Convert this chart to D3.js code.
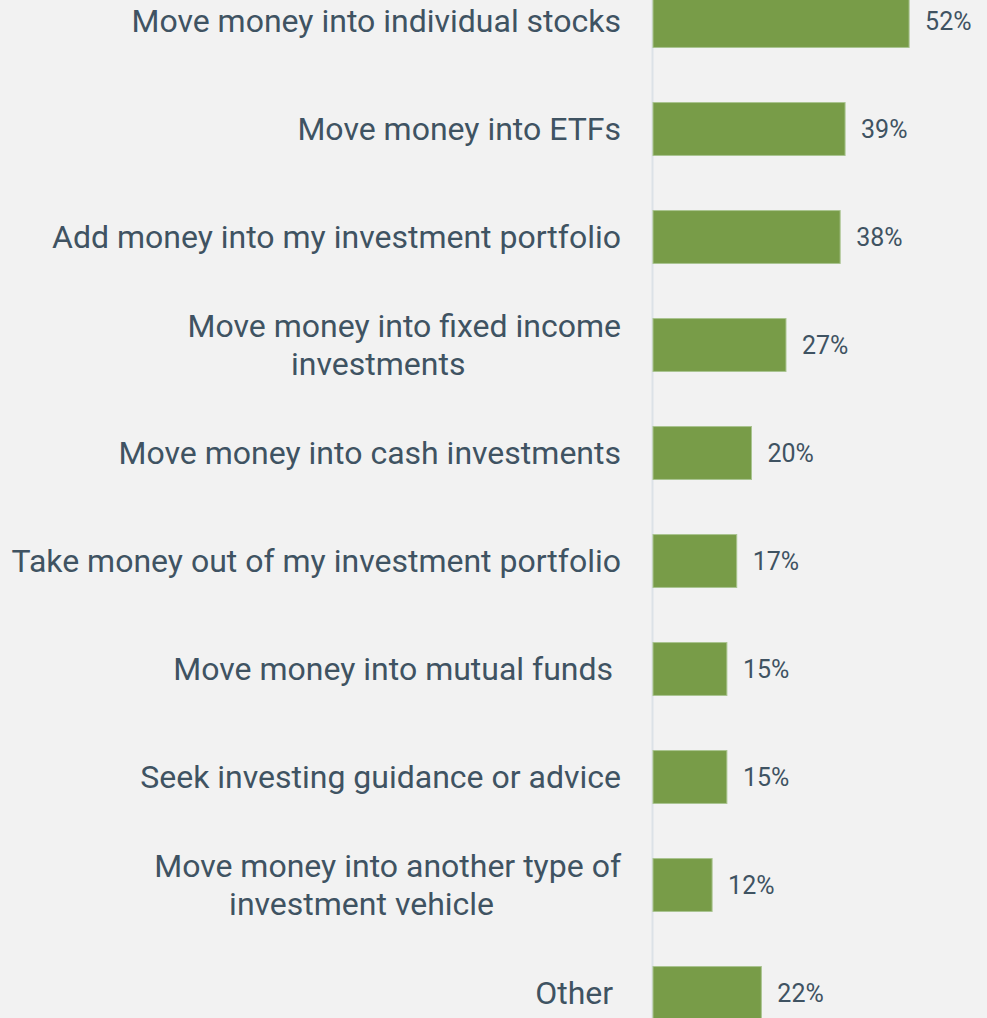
<!DOCTYPE html>
<html><head><meta charset="utf-8">
<script src="https://cdn.jsdelivr.net/npm/d3@7/dist/d3.min.js"></script>
<style>
html,body{margin:0;padding:0;background:#f2f2f2;}
svg{display:block;}
text{font-family:Roboto,"Noto Sans",sans-serif;fill:#3f5362;white-space:pre;}
</style></head><body>
<svg id="c" width="987" height="1018"></svg>
<script>
const categories = [
  ["Move money into individual stocks"],
  ["Move money into ETFs"],
  ["Add money into my investment portfolio"],
  ["Move money into fixed income", "investments"],
  ["Move money into cash investments"],
  ["Take money out of my investment portfolio"],
  ["Move money into mutual funds "],
  ["Seek investing guidance or advice"],
  ["Move money into another type of", "investment vehicle"],
  ["Other "]
];
const values = [52, 39, 38, 27, 20, 17, 15, 15, 12, 22];
const valueLabels = ["52%","39%","38%","27%","20%","17%","15%","15%","12%","22%"];

const W = 987, H = 1018;
const svg = d3.select("#c");
svg.append("rect").attr("width", W).attr("height", H).attr("fill", "#f2f2f2");

const axisX = 653;
const x = d3.scaleLinear().domain([0, 60]).range([axisX, axisX + 295.5]);
const y = d3.scaleBand().domain(d3.range(values.length)).range([-33, 1047])
  .paddingInner(0.51).paddingOuter(0.255);

// axis line
svg.append("line").attr("x1", axisX - 0.5).attr("x2", axisX - 0.5)
  .attr("y1", 0).attr("y2", H).attr("stroke", "#dce2e7").attr("stroke-width", 2);

// bars
svg.selectAll("rect.bar").data(values).join("rect").attr("class", "bar")
  .attr("x", x(0)).attr("y", (d, i) => y(i))
  .attr("width", d => x(d) - x(0)).attr("height", y.bandwidth())
  .attr("fill", "#789c48").attr("stroke", "#a9c490").attr("stroke-width", 1);

// value labels
svg.selectAll("text.val").data(values).join("text").attr("class", "val")
  .attr("x", d => x(d) + 16).attr("y", (d, i) => y(i) + y.bandwidth() / 2)
  .attr("dy", "0.35em").attr("font-size", 25).text((d, i) => valueLabels[i]);

// category labels
const labelX = axisX - 32;
const lineH = 38;
categories.forEach((lines, i) => {
  const cy = y(i) + y.bandwidth() / 2;
  const n = lines.length;
  const first = svg.append("text").attr("x", labelX)
    .attr("y", cy - (n - 1) * lineH / 2).attr("dy", "0.35em")
    .attr("text-anchor", "end").attr("font-size", 32).text(lines[0]);
  if (n > 1) {
    const w = first.node().getComputedTextLength();
    const center = labelX - w / 2 - 26;
    for (let k = 1; k < n; k++) {
      svg.append("text").attr("x", center)
        .attr("y", cy - (n - 1) * lineH / 2 + k * lineH).attr("dy", "0.35em")
        .attr("text-anchor", "middle").attr("font-size", 32).text(lines[k]);
    }
  }
});
</script>
</body></html>
